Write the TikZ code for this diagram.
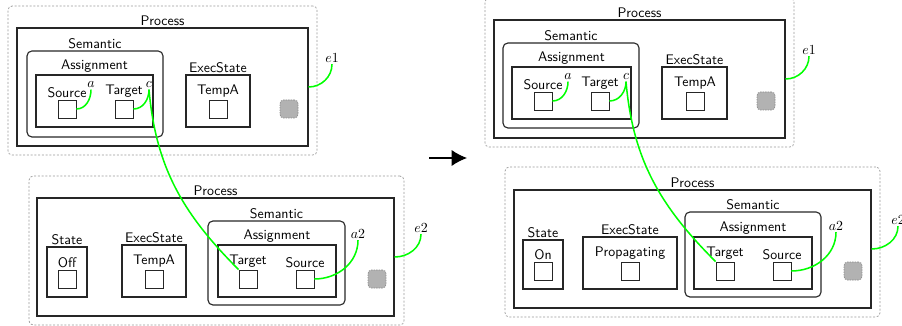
\documentclass[tikz,border=0pt]{standalone}
\usepackage{xcolor}
\usepackage{tikz}
\usetikzlibrary{arrows.meta,fit}

\begin{document}
\begin{tikzpicture}[
    x=0.72pt, y=-0.72pt,
    env/.style={draw=gray!80, dash pattern=on 1.5pt off 1.2pt, line width=0.5pt,
                rounded corners=3pt, inner sep=0pt},
    cont/.style={draw=black!85, line width=0.8pt, inner sep=0pt},
    sem/.style={cont, rounded corners=3.5pt},
    slot/.style={draw=black!85, line width=0.6pt, inner sep=0pt},
    gap/.style={draw=gray!90, fill=gray!60, dash pattern=on 1pt off 0.8pt,
                line width=0.5pt, rounded corners=2.5pt, inner sep=0pt},
    ttl/.style={font=\sffamily, inner sep=1.2pt},
    var/.style={inner sep=1pt},
    link/.style={green, line width=1.1pt},
    trans/.style={-{Latex[length=11pt,width=11.5pt]}, line width=0.8pt}
]
\clip (0,0) rectangle (902,326);

% left, upper process
\node[env, fit={(8,6) (317,155)}] (env1) {};
\node[cont, fit={(17,28) (308,146)}, label={[ttl]above:Process}] (proc1) {};
\node[sem, fit={(27,51) (163,137)}, label={[ttl]above:Semantic}] (sem1) {};
\node[cont, fit={(36,75) (153,127)}, label={[ttl]above:Assignment}] (asg1) {};
\node[slot, fit={(58,100) (76,118)}, label={[ttl]above:Source}] (src1) {};
\node[slot, fit={(115,100) (133,118)}, label={[ttl]above:Target}] (tgt1) {};
\node[var] (va1) at (91,85) {$a$};
\node[var] (vc1) at (149,85) {$c$};
\node[cont, fit={(186,75) (250,127)}, label={[ttl]above:ExecState}] (exec1) {};
\node[slot, fit={(209,100) (227,118)}, label={[ttl]above:TempA}] (val1) {};
\node[gap, fit={(280,100) (298,118)}] (gap1) {};
\node[var] (ve1) at (332,58) {$e1$};

% left, lower process
\node[env, fit={(29,176) (404,325)}] (env2) {};
\node[cont, fit={(37,198) (394,316)}, label={[ttl]above:Process}] (proc2) {};
\node[cont, fit={(47,247) (87,297)}, label={[ttl]above:State}] (state2) {};
\node[slot, fit={(58,270) (76,288)}, label={[ttl]above:Off}] (st2) {};
\node[cont, fit={(122,245) (186,297)}, label={[ttl]above:ExecState}] (exec2) {};
\node[slot, fit={(145,270) (163,288)}, label={[ttl]above:TempA}] (val2) {};
\node[sem, fit={(208,221) (345,305)}, label={[ttl]above:Semantic}] (sem2) {};
\node[cont, fit={(218,245) (336,297)}, label={[ttl]above:Assignment}] (asg2) {};
\node[slot, fit={(239,270) (257,288)}, label={[ttl]above:Target}] (tgt2) {};
\node[slot, fit={(296,270) (314,288)}, label={[ttl]above:Source}] (src2) {};
\node[var] (va2) at (358,234) {$a2$};
\node[gap, fit={(368,270) (386,288)}] (gap2) {};
\node[var] (ve2) at (421,228) {$e2$};

% right, upper process
\node[env, fit={(485,-2) (794,147)}] (env3) {};
\node[cont, fit={(494,20) (785,138)}, label={[ttl]above:Process}] (proc3) {};
\node[sem, fit={(503,43) (639,128)}, label={[ttl]above:Semantic}] (sem3) {};
\node[cont, fit={(512,67) (631,119)}, label={[ttl]above:Assignment}] (asg3) {};
\node[slot, fit={(534,92) (552,110)}, label={[ttl]above:Source}] (src3) {};
\node[slot, fit={(591,92) (609,110)}, label={[ttl]above:Target}] (tgt3) {};
\node[var] (va3) at (568,77) {$a$};
\node[var] (vc3) at (626,77) {$c$};
\node[cont, fit={(662,67) (727,119)}, label={[ttl]above:ExecState}] (exec3) {};
\node[slot, fit={(686,92) (704,110)}, label={[ttl]above:TempA}] (val3) {};
\node[gap, fit={(757,92) (775,110)}] (gap3) {};
\node[var] (ve3) at (809,50) {$e1$};

% right, lower process
\node[env, fit={(505,167) (880,317)}] (env4) {};
\node[cont, fit={(514,190) (871,308)}, label={[ttl]above:Process}] (proc4) {};
\node[cont, fit={(523,240) (563,289)}, label={[ttl]above:State}] (state4) {};
\node[slot, fit={(534,262) (552,280)}, label={[ttl]above:On}] (st4) {};
\node[cont, fit={(583,237) (677,289)}, label={[ttl]above:ExecState}] (exec4) {};
\node[slot, fit={(621,262) (639,280)}, label={[ttl]above:Propagating}] (val4) {};
\node[sem, fit={(685,212) (821,297)}, label={[ttl]above:Semantic}] (sem4) {};
\node[cont, fit={(694,237) (812,289)}, label={[ttl]above:Assignment}] (asg4) {};
\node[slot, fit={(716,262) (734,280)}, label={[ttl]above:Target}] (tgt4) {};
\node[slot, fit={(773,262) (791,280)}, label={[ttl]above:Source}] (src4) {};
\node[var] (va4) at (836,226) {$a2$};
\node[gap, fit={(844,262) (862,280)}] (gap4) {};
\node[var] (ve4) at (898,220) {$e2$};

% step between the two configurations
\coordinate (from) at (429,158);
\coordinate (to) at (467,158);
\draw[trans] (from) -- (to);

% bindings
\draw[link] (src1.east) to[out=0,in=-90] (va1.south);
\draw[link] (tgt1.east) to[out=0,in=-90] (vc1.south);
\draw[link] (proc1.east) to[out=0,in=-90] (ve1.south);
\draw[link] (vc1.south) to[out=-85,in=135] (tgt2.north west);
\draw[link] (src2.east) to[out=0,in=-90] (va2.south);
\draw[link] (proc2.east) to[out=0,in=-90] (ve2.south);

\draw[link] (src3.east) to[out=0,in=-90] (va3.south);
\draw[link] (tgt3.east) to[out=0,in=-90] (vc3.south);
\draw[link] (proc3.east) to[out=0,in=-90] (ve3.south);
\draw[link] (vc3.south) to[out=-85,in=135] (tgt4.north west);
\draw[link] (src4.east) to[out=0,in=-90] (va4.south);
\draw[link] (proc4.east) to[out=0,in=-90] (ve4.south);
\end{tikzpicture}
\end{document}
